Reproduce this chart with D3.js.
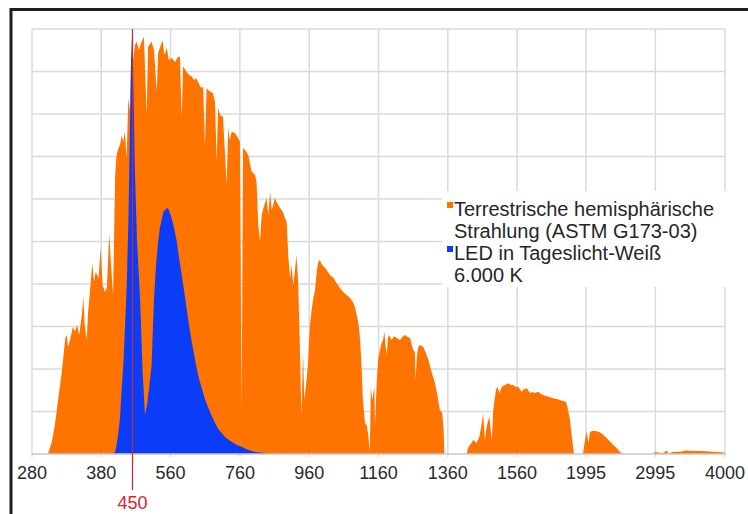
<!DOCTYPE html>
<html>
<head>
<meta charset="utf-8">
<script src="https://cdn.jsdelivr.net/npm/d3@7"></script>
<style>
  html, body { margin: 0; padding: 0; background: #ffffff; }
  svg { display: block; }
  text { font-family: "Liberation Sans", Arial, sans-serif; }
</style>
</head>
<body>
<svg id="chart" width="748" height="514"></svg>
<script>
// ---------------- DATA ----------------
const tickValues = [280, 380, 560, 760, 960, 1160, 1360, 1560, 1995, 2995, 4000];
const tickLabels = ["280", "380", "560", "760", "960", "1160", "1360", "1560", "1995", "2995", "4000"];
// sampling breakpoints of the category axis (step 0.5 nm / 1 nm / 5 nm)
const sampleBreaks = [280, 400, 1700, 4000];
const sampleIndex = [0, 240, 1540, 2000];
const markerWavelength = 450;
const markerLabel = "450";
const seriesNames = [
  ["Terrestrische hemisphärische", "Strahlung (ASTM G173-03)"],
  ["LED in Tageslicht-Weiß", "6.000 K"]
];
const seriesColors = ["#ff7300", "#0b3cf7"];

// [wavelength nm, spectral irradiance]
const sunSpectrum = [
  [280,0],[303,0],[304,0.011],[308,0.050],[313,0.136],[318,0.262],[323,0.387],[328,0.544],[330,0.560],
  [332,0.505],[335,0.536],[339,0.599],[342,0.576],[345,0.607],[348,0.560],[352,0.654],[354,0.740],
  [356,0.607],[359,0.536],[361,0.670],[364,0.780],[367,0.897],[369.5,0.811],[372,0.858],[376,0.827],
  [379,0.968],[382,0.795],[385,0.764],[388,0.780],[391.5,1.039],[394,0.889],[397,0.748],[400,1.313],
  [404,1.407],[409,1.439],[414,1.454],[419,1.501],[423.5,1.470],[428,1.517],[433,1.392],[438,1.674],
  [443,1.611],[446,1.862],[452,1.854],[457,1.925],[462,1.940],[469,1.901],[475,1.934],[483,1.964],
  [491,1.595],[495,1.917],[505,1.940],[512,1.901],[520,1.705],[524,1.887],[529,1.911],[537,1.948],
  [542,1.878],[549,1.911],[555,1.854],[563,1.864],[573,1.845],[581,1.868],[587,1.870],[592,1.581],
  [596,1.823],[606,1.799],[613,1.784],[621,1.776],[628,1.760],[633,1.769],[639,1.752],[648,1.722],
  [654,1.728],[659,1.454],[664,1.722],[668,1.713],[677,1.704],[682,1.699],[688,1.658],[693,1.376],
  [697,1.628],[703,1.595],[711,1.587],[722,1.266],[726,1.534],[731,1.478],[736,1.517],[746,1.511],
  [755,1.487],[760,1.470],[765,0.207],[769,1.440],[775,1.431],[784,1.407],[794,1.328],[804,1.313],
  [808,1.281],[813,1.078],[818,0.999],[823,1.125],[828,1.158],[837,1.205],[842,1.125],[847,1.234],
  [852,1.148],[856,1.172],[861,1.205],[867,1.181],[876,1.158],[884,1.139],[890,1.111],[895,1.092],
  [900,0.922],[905,0.828],[909,0.889],[914,0.795],[919,0.866],[923,0.936],[928,0.819],[932,0.584],
  [935,0.348],[938,0.184],[942,0.480],[946,0.254],[953,0.358],[957,0.442],[962,0.607],[967,0.678],
  [972,0.734],[977,0.772],[982,0.866],[986,0.904],[991,0.913],[997,0.889],[1006,0.875],[1014,0.856],
  [1020,0.842],[1030,0.828],[1039,0.805],[1049,0.781],[1058,0.762],[1068,0.748],[1078,0.734],
  [1086,0.715],[1092,0.693],[1102,0.616],[1107,0.536],[1112,0.381],[1115,0.254],[1121,0.146],
  [1126,0.136],[1131,0.081],[1135,0.011],[1138,0.317],[1142,0.254],[1148,0.317],[1150,0.132],
  [1155,0.348],[1159,0.442],[1164,0.489],[1169,0.522],[1173,0.536],[1177,0.576],[1180,0.513],
  [1184,0.466],[1187,0.546],[1190,0.560],[1198,0.536],[1203,0.552],[1208,0.552],[1213,0.546],
  [1222,0.536],[1229,0.551],[1236,0.560],[1244,0.551],[1251,0.546],[1260,0.489],[1265,0.480],
  [1267,0.348],[1271,0.466],[1275,0.505],[1280,0.513],[1289,0.505],[1299,0.466],[1306,0.433],
  [1314,0.381],[1323,0.334],[1330,0.278],[1337,0.207],[1344,0.193],[1348,0.113],[1350,0.005],
  [1352,0],[1412,0],[1415,0.003],[1418,0.028],[1424,0.042],[1434,0.066],[1443,0.052],[1451,0.081],
  [1458,0.144],[1462,0.192],[1467,0.066],[1472,0.128],[1480,0.176],[1487,0.066],[1491,0.207],
  [1495,0.254],[1499,0.301],[1503,0.317],[1509,0.287],[1516,0.317],[1525,0.325],[1535,0.333],
  [1542,0.325],[1549,0.325],[1557,0.315],[1563,0.317],[1573,0.293],[1580,0.306],[1588,0.309],
  [1597,0.287],[1604,0.292],[1612,0.287],[1621,0.293],[1629,0.282],[1636,0.278],[1643,0.273],
  [1650,0.270],[1658,0.266],[1664,0.262],[1674,0.259],[1684,0.254],[1692,0.249],[1706,0.246],
  [1725,0.223],[1763,0.160],[1802,0.050],[1821,0.003],[1830,0],[1950,0],[1980,0.066],[2004,0.105],
  [2028,0.052],[2052,0.105],[2100,0.110],[2139,0.108],[2172,0.105],[2211,0.099],[2244,0.089],
  [2283,0.078],[2316,0.066],[2355,0.054],[2388,0.042],[2427,0.031],[2460,0.019],[2485,0.009],
  [2510,0.003],[2525,0],[2970,0],[2990,0.011],[3019,0.007],[3062,0.006],[3091,0.002],[3159,0.016],
  [3178,0.005],[3206,0.002],[3235,0.009],[3279,0.011],[3351,0.011],[3447,0.016],[3538,0.014],
  [3639,0.014],[3726,0.013],[3831,0.011],[3928,0.009],[4000,0.006]
];

const ledSpectrum = [
  [397,0],[400,0.011],[404,0.042],[409,0.099],[414,0.169],[419,0.311],[424,0.433],[428,0.584],
  [433,0.772],[438,1.078],[443,1.548],[446,1.864],[449,1.98],[450,1.99],[453,1.689],[457,1.327],
  [463,1.007],[472,0.725],[479,0.395],[486,0.184],[492,0.231],[498,0.311],[505,0.414],[512,0.725],
  [518,0.889],[524,0.998],[529,1.064],[539,1.139],[549,1.158],[554,1.153],[563,1.111],[570,1.064],
  [578,0.999],[584,0.927],[592,0.842],[599,0.767],[606,0.687],[613,0.607],[621,0.528],[628,0.466],
  [635,0.405],[642,0.353],[650,0.311],[659,0.259],[669,0.216],[679,0.179],[688,0.146],[697,0.120],
  [707,0.099],[720,0.075],[736,0.058],[749,0.045],[765,0.034],[775,0.026],[789,0.016],[804,0.010],
  [818,0.007],[835,0.003],[853,0]
];
const yMax = 2.0;
const yTickStep = 0.2;

// ---------------- LAYOUT ----------------
const W = 748, H = 514;
const plot = { left: 32, right: 725, top: 29, bottom: 454 };
const svg = d3.select("#chart");

svg.append("rect").attr("width", W).attr("height", H).attr("fill", "#fff");

const nSamples = sampleIndex[sampleIndex.length - 1];
const x = d3.scaleLinear()
  .domain(sampleBreaks)
  .range(sampleIndex.map(i => plot.left + i / nSamples * (plot.right - plot.left)));
const y = d3.scaleLinear().domain([0, yMax]).range([plot.bottom, plot.top]);

// grid
const gridColor = "#dadada";
const yTicks = d3.range(0, yMax + 1e-9, yTickStep);
svg.append("g").selectAll("line").data(yTicks.slice(1)).join("line")
  .attr("x1", plot.left).attr("x2", plot.right)
  .attr("y1", d => y(d)).attr("y2", d => y(d))
  .attr("stroke", gridColor).attr("stroke-width", 1.5);
svg.append("g").selectAll("line").data(tickValues).join("line")
  .attr("x1", d => x(d)).attr("x2", d => x(d))
  .attr("y1", plot.top).attr("y2", plot.bottom + 3)
  .attr("stroke", gridColor).attr("stroke-width", 1.5);

// series
const area = d3.area().x(d => x(d[0])).y0(y(0)).y1(d => y(d[1]));
svg.append("path").datum(sunSpectrum).attr("d", area).attr("fill", seriesColors[0]);
svg.append("path").datum(ledSpectrum).attr("d", area).attr("fill", seriesColors[1]);

// x axis line
svg.append("line").attr("x1", plot.left).attr("x2", plot.right)
  .attr("y1", plot.bottom).attr("y2", plot.bottom)
  .attr("stroke", "#c8c8c8").attr("stroke-width", 1.5);

// tick labels
svg.append("g").selectAll("text").data(tickValues).join("text")
  .attr("x", d => x(d)).attr("y", 479)
  .attr("text-anchor", "middle").attr("font-size", 18).attr("fill", "#2a2a2a")
  .text((d, i) => tickLabels[i]);

// legend
const lg = svg.append("g");
lg.append("rect").attr("x", 442).attr("y", 191).attr("width", 286).attr("height", 96).attr("fill", "#fff");
const lineH = 22;
seriesNames.forEach((lines, i) => {
  const base = 216 + i * 2 * lineH;
  lg.append("rect").attr("x", 447).attr("y", base - 14).attr("width", 6).attr("height", 6)
    .attr("fill", seriesColors[i]);
  lines.forEach((t, j) => {
    lg.append("text").attr("x", 454).attr("y", base + j * lineH)
      .attr("font-size", 20).attr("fill", "#262626").text(t);
  });
});

// marker line
svg.append("line").attr("x1", x(markerWavelength)).attr("x2", x(markerWavelength))
  .attr("y1", plot.top).attr("y2", 490)
  .attr("stroke", "#c8282f").attr("stroke-width", 1.2);
svg.append("text").attr("x", x(markerWavelength)).attr("y", 508.5)
  .attr("text-anchor", "middle").attr("font-size", 18).attr("fill", "#e0202a")
  .text(markerLabel);

// frame
svg.append("rect").attr("x", 11).attr("y", 9.5).attr("width", 800).attr("height", 600)
  .attr("fill", "none").attr("stroke", "#1e1e1e").attr("stroke-width", 3);
</script>
</body>
</html>
